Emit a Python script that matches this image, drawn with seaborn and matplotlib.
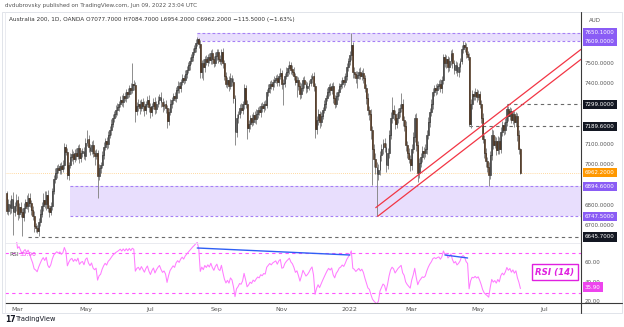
import numpy as np
import pandas as pd
import matplotlib
matplotlib.use("Agg")
import matplotlib.pyplot as plt
import matplotlib.transforms as mtransforms
from matplotlib.patches import Rectangle
import seaborn as sns

sns.set_style("white")
plt.rcParams['font.family'] = ['DejaVu Sans']

# ---------------- data ----------------
first_open = 6860.0
closes = [
    6775, 6810, 6790, 6835, 6770, 6800, 6830, 6760, 6795, 6770,
    6745, 6790, 6820, 6800, 6840, 6815, 6780, 6750, 6700, 6690,
    6675, 6720, 6760, 6800, 6830, 6810, 6850, 6790, 6770, 6800,
    6870, 6930, 6960, 6985, 6975, 6995, 6980, 7000, 7090, 7065,
    6950, 7000, 7040, 7055, 7030, 7060, 7045, 7085, 7035, 7060,
    7070, 7045, 7110, 7130, 7090, 7070, 7100, 7060, 7045, 7060,
    6945, 6985, 7000, 7050, 7090, 7120, 7105, 7150, 7170, 7200,
    7230, 7250, 7270, 7285, 7300, 7320, 7310, 7340, 7330, 7360,
    7350, 7380, 7370, 7400, 7395, 7265, 7290, 7300, 7280, 7310,
    7290, 7270, 7300, 7320, 7285, 7260, 7290, 7310, 7275, 7300,
    7320, 7335, 7310, 7290, 7300, 7280, 7215, 7260, 7300, 7320,
    7340, 7330, 7370, 7390, 7380, 7410, 7430, 7420, 7450, 7470,
    7490, 7510, 7530, 7555, 7575, 7600, 7620, 7595, 7460, 7500,
    7480, 7520, 7505, 7530, 7515, 7550, 7520, 7500, 7535, 7555,
    7520, 7510, 7555, 7500, 7440, 7400, 7420, 7390, 7430, 7410,
    7330, 7160, 7230, 7250, 7280, 7270, 7300, 7380, 7300, 7180,
    7200, 7230, 7210, 7245, 7225, 7250, 7270, 7260, 7290, 7280,
    7300, 7295, 7360, 7380, 7400, 7390, 7410, 7420, 7430, 7410,
    7440, 7455, 7400, 7405, 7440, 7460, 7475, 7490, 7470, 7460,
    7440, 7410, 7420, 7390, 7350, 7380, 7420, 7400, 7380, 7390,
    7405, 7425, 7440, 7390, 7175, 7220, 7250, 7210, 7240, 7270,
    7300, 7330, 7360, 7385, 7370, 7390, 7330, 7300, 7340, 7360,
    7390, 7400, 7420, 7410, 7440, 7480, 7510, 7540, 7590, 7460,
    7450, 7430, 7445, 7460, 7440, 7455, 7430, 7380, 7330, 7270,
    7250, 7170, 7080, 7030, 6990, 6955, 6975, 7050, 7080, 7110,
    7090, 7000, 7060, 7150, 7230, 7270, 7250, 7200, 7230, 7260,
    7280, 7300, 7220, 7190, 7100, 7060, 7030, 7000, 7080, 7140,
    7230, 7100, 6960, 7010, 7040, 7070, 7060, 7080, 7150, 7210,
    7260, 7300, 7360, 7380, 7370, 7390, 7400, 7380, 7420, 7530,
    7500, 7520, 7480, 7510, 7550, 7500, 7470, 7490, 7460, 7480,
    7510, 7570, 7590, 7580, 7545, 7530, 7200, 7300, 7350, 7340,
    7360, 7335, 7350, 7300, 7230, 7130, 7060, 7020, 6990, 6950,
    7050, 7150, 7100, 7120, 7075, 7120, 7080, 7160, 7195, 7170,
    7210, 7275, 7240, 7265, 7220, 7250, 7210, 7240, 7150, 7077.7, 6962.2,
]
upper_wick = [
    10, 25, 20, 15, 30, 20, 25, 15, 20, 25,
    20, 25, 15, 30, 20, 22, 15, 20, 25, 15,
    15, 20, 25, 20, 30, 40, 20, 25, 15, 20,
    15, 20, 25, 15, 20, 15, 20, 25, 20, 15,
    20, 15, 20, 25, 15, 20, 25, 15, 20, 15,
    15, 20, 25, 42, 20, 15, 20, 25, 15, 20,
    15, 20, 15, 20, 25, 15, 20, 15, 20, 25,
    20, 15, 25, 20, 15, 20, 25, 15, 20, 15,
    20, 15, 25, 100, 20, 15, 20, 25, 20, 15,
    20, 25, 15, 20, 25, 20, 15, 20, 25, 15,
    20, 15, 25, 20, 15, 20, 15, 20, 25, 15,
    15, 20, 15, 25, 20, 15, 20, 15, 20, 15,
    15, 20, 15, 20, 15, 20, 12, 5, 20, 15,
    20, 15, 20, 15, 20, 15, 20, 15, 20, 15,
    15, 20, 15, 20, 15, 20, 15, 20, 25, 15,
    20, 15, 20, 15, 20, 25, 15, 20, 15, 20,
    20, 15, 20, 15, 20, 25, 15, 20, 15, 20,
    15, 20, 15, 20, 15, 20, 15, 20, 15, 20,
    15, 20, 15, 20, 15, 20, 15, 20, 15, 20,
    20, 15, 20, 15, 20, 25, 15, 20, 15, 20,
    15, 20, 15, 20, 15, 20, 25, 15, 20, 15,
    20, 15, 20, 15, 20, 15, 20, 15, 20, 15,
    15, 20, 15, 20, 15, 20, 15, 20, 60.1, 15,
    20, 15, 20, 15, 20, 15, 20, 15, 20, 25,
    20, 25, 20, 25, 30, 25, 30, 20, 25, 20,
    25, 20, 25, 20, 30, 65, 25, 20, 25, 20,
    20, 54, 25, 20, 25, 20, 25, 20, 25, 20,
    20, 25, 20, 25, 20, 25, 20, 25, 20, 25,
    20, 25, 20, 15, 20, 15, 20, 25, 20, 15,
    15, 20, 15, 20, 15, 20, 15, 20, 15, 20,
    15, 20, 19, 15, 20, 15, 20, 25, 20, 15,
    20, 15, 20, 15, 20, 25, 20, 25, 20, 25,
    20, 25, 20, 25, 20, 25, 20, 25, 20, 15,
    20, 24, 15, 20, 15, 20, 15, 20, 15, 20, 7,
]
lower_wick = [
    15, 20, 30, 25, 115, 20, 25, 30, 20, 25,
    95, 20, 25, 15, 30, 20, 25, 20, 30, 20,
    10, 25, 20, 15, 25, 20, 30, 20, 25, 15,
    20, 15, 20, 25, 15, 20, 25, 15, 20, 15,
    20, 25, 15, 20, 25, 15, 20, 15, 25, 20,
    20, 15, 20, 15, 25, 20, 15, 20, 45, 15,
    107, 20, 25, 15, 20, 15, 25, 20, 15, 20,
    15, 20, 15, 25, 20, 15, 20, 25, 15, 20,
    20, 15, 20, 15, 25, 55, 20, 25, 30, 15,
    25, 30, 20, 15, 25, 30, 20, 15, 25, 20,
    15, 20, 25, 30, 20, 25, 35, 20, 15, 20,
    20, 15, 20, 15, 25, 20, 15, 20, 15, 20,
    15, 20, 15, 20, 15, 20, 15, 20, 30, 30,
    60, 20, 15, 20, 15, 20, 25, 20, 15, 20,
    20, 15, 20, 25, 20, 15, 20, 25, 15, 20,
    25, 62, 20, 25, 20, 15, 20, 25, 20, 50,
    20, 25, 20, 15, 20, 25, 20, 15, 25, 20,
    20, 25, 15, 20, 25, 15, 20, 25, 15, 20,
    20, 15, 25, 105, 20, 15, 20, 25, 20, 15,
    20, 15, 75, 20, 25, 20, 15, 20, 25, 20,
    20, 15, 20, 25, 42, 20, 25, 30, 20, 15,
    15, 20, 15, 20, 25, 20, 25, 20, 15, 20,
    20, 15, 20, 25, 15, 20, 15, 20, 25, 30,
    20, 25, 50, 20, 15, 20, 25, 20, 30, 25,
    30, 40, 180, 40, 35, 207.5, 30, 25, 30, 25,
    25, 35, 20, 25, 20, 25, 30, 25, 20, 25,
    25, 20, 30, 25, 30, 25, 20, 30, 25, 20,
    25, 30, 44, 25, 20, 25, 30, 20, 25, 20,
    25, 20, 25, 20, 25, 20, 15, 20, 25, 20,
    20, 25, 20, 15, 20, 25, 20, 15, 20, 25,
    20, 15, 20, 25, 20, 15, 10.4, 20, 25, 20,
    20, 25, 15, 20, 25, 20, 25, 30, 25, 55.4,
    20, 25, 20, 15, 25, 20, 25, 20, 15, 20,
    15, 20, 25, 20, 15, 20, 25, 20, 30, 25, 8,
]
start_date = "2021-02-18"
month_ticks = ["2021-03-01", "2021-05-03", "2021-07-01", "2021-09-01", "2021-11-01",
               "2022-01-03", "2022-03-01", "2022-05-02", "2022-07-01"]
month_labels = ["Mar", "May", "Jul", "Sep", "Nov", "2022", "Mar", "May", "Jul"]

axis_prices = [7500, 7400, 7100, 7000, 6800, 6700]
resistance_zone = (7609.0, 7650.1)
support_zone = (6747.5, 6894.6)
level_lines = [7299.0, 7189.6, 6645.7]
last_price = 6962.2
rsi_period = 14
rsi_levels = [70, 30]
rsi_axis_labels = [60, 40, 20]
rsi_last_shown = 35.90

assert len(closes) == len(upper_wick) == len(lower_wick), (len(closes), len(upper_wick), len(lower_wick))

# ---------------- derived ----------------
closes = np.array(closes, float)
n = len(closes)
opens = np.r_[first_open, closes[:-1]]
highs = np.maximum(opens, closes) + np.array(upper_wick, float)
lows = np.minimum(opens, closes) - np.array(lower_wick, float)
dates = pd.bdate_range(start_date, periods=n)
idx = np.arange(n)
df = pd.DataFrame({"date": dates, "i": idx, "open": opens, "high": highs,
                   "low": lows, "close": closes})

delta = df["close"].diff()
gain = delta.clip(lower=0).ewm(alpha=1 / rsi_period, adjust=False).mean()
loss = (-delta.clip(upper=0)).ewm(alpha=1 / rsi_period, adjust=False).mean()
df["rsi"] = 100 - 100 / (1 + gain / loss)

def date_index(d):
    return len(pd.bdate_range(start_date, d)) - 1

tick_pos = [date_index(d) for d in month_ticks]

# ---------------- figure ----------------
W, H = 624, 327
fig = plt.figure(figsize=(W / 100, H / 100), dpi=100)
fig.patch.set_facecolor("white")

def fx(px):
    return px / W

def fy(py):
    return 1 - py / H

X0, X1 = 5, 581
ax = fig.add_axes([fx(X0), fy(242), fx(X1) - fx(X0), fy(12) - fy(242)])
axr = fig.add_axes([fx(X0), fy(303), fx(X1) - fx(X0), fy(242) - fy(303)])
xmin, xmax = -1.3, 380.1
for a in (ax, axr):
    a.set_xlim(xmin, xmax)
    a.set_facecolor("none")
    for s in a.spines.values():
        s.set_visible(False)
    a.set_yticks([])
ax.set_xticks([])
ax.set_ylim(6621, 7753)
axr.set_ylim(20, 81)

# zones
purple_fill = "#e8defd"
purple_line = "#a680f5"
purple_box = "#8a5cf5"
ax.add_patch(Rectangle((126, resistance_zone[0]), xmax - 126,
                       resistance_zone[1] - resistance_zone[0],
                       facecolor=purple_fill, edgecolor="none", zorder=1))
ax.add_patch(Rectangle((41.5, support_zone[0]), xmax - 41.5,
                       support_zone[1] - support_zone[0],
                       facecolor=purple_fill, edgecolor="none", zorder=1))
for y in resistance_zone:
    ax.hlines(y, 126, xmax, colors=purple_line, linestyles=(0, (2.5, 2)), lw=0.8, zorder=2)
for y in support_zone:
    ax.hlines(y, 41.5, xmax, colors=purple_line, linestyles=(0, (2.5, 2)), lw=0.8, zorder=2)

# horizontal levels
starts = [331, 306, 14]
for y, s in zip(level_lines, starts):
    ax.hlines(y, s, xmax, colors="#6a6a6a", linestyles=(0, (3, 3)), lw=0.8, zorder=2)
ax.axhline(last_price, color="#ffb74d", ls=(0, (1, 1.5)), lw=0.6, alpha=0.7, zorder=2)

# candles
up = df["close"] >= df["open"]
ax.vlines(df["i"], df["low"], df["high"], color="#858585", lw=0.65, zorder=3)
for mask, fc in ((up, "#9a9a9a"), (~up, "#c4661c")):
    d = df[mask]
    ax.bar(d["i"], (d["close"] - d["open"]).abs(), bottom=np.minimum(d["open"], d["close"]),
           width=0.62, color=fc, edgecolor="#161616", linewidth=0.4, zorder=4)

# channel
red = "#f23645"
ax.plot([244.2, xmax], [6790, 7569], color=red, lw=0.9, zorder=5)
ax.plot([245.5, xmax], [support_zone[0], 7520], color=red, lw=0.9, zorder=5)

# RSI
magenta = "#ee44ee"
sns.lineplot(data=df, x="i", y="rsi", ax=axr, color="#ff7cff", lw=0.75, zorder=3)
axr.set_xlabel("")
axr.set_ylabel("")
for lvl in rsi_levels:
    axr.axhline(lvl, color="#ff55ff", ls=(0, (3, 3)), lw=0.8, zorder=2)
axr.plot([126, 227], [75, 68], color="#2f5ff5", lw=1.0, zorder=4)
axr.plot([290, 305], [68, 65], color="#2f5ff5", lw=1.0, zorder=4)

axr.set_xticks(tick_pos)
axr.set_xticklabels(month_labels)
axr.tick_params(axis="x", length=0, pad=3, labelsize=4.5, labelcolor="#555555")

# right axis labels
tr = mtransforms.blended_transform_factory(ax.transAxes, ax.transData)
lab_x = (585 - X0) / (X1 - X0)
fs = 4.0
for p in axis_prices:
    ax.text(lab_x, p, f"{p:.4f}", transform=tr, fontsize=fs, color="#555555",
            va="center", ha="left", clip_on=False)
boxes = [(resistance_zone[1], purple_box), (resistance_zone[0], purple_box),
         (level_lines[0], "#131722"), (level_lines[1], "#131722"),
         (last_price, "#ff9800"), (support_zone[1], purple_box),
         (support_zone[0], purple_box), (level_lines[2], "#131722")]
for p, c in boxes:
    ax.text(lab_x, p, f"{p:.4f}", transform=tr, fontsize=fs, color="white",
            va="center", ha="left", clip_on=False,
            bbox=dict(boxstyle="square,pad=0.4", fc=c, ec="none"))
fig.text(fx(589), fy(20), "AUD", fontsize=fs, color="#555555", va="center", ha="left")

trr = mtransforms.blended_transform_factory(axr.transAxes, axr.transData)
for v in rsi_axis_labels:
    axr.text(lab_x, v + (1.5 if v == 20 else 0), f"{v:.2f}", transform=trr, fontsize=fs,
             color="#555555", va="center", ha="left", clip_on=False)
axr.text(lab_x, rsi_last_shown, f"{rsi_last_shown:.2f}", transform=trr, fontsize=fs,
         color="white", va="center", ha="left", clip_on=False,
         bbox=dict(boxstyle="square,pad=0.4", fc=magenta, ec="none"))

# texts
fig.text(fx(5), fy(6), "dvdubrovsky published on TradingView.com, Jun 09, 2022 23:04 UTC",
         fontsize=4.1, color="#555555", va="center", ha="left")
fig.text(fx(9), fy(19),
         "Australia 200, 1D, OANDA O7077.7000 H7084.7000 L6954.2000 C6962.2000 \u2212115.5000 (\u22121.63%)",
         fontsize=4.15, color="#333333", va="center", ha="left")
fig.text(fx(9), fy(254), "RSI", fontsize=4.2, color="#555555", va="center", ha="left")
fig.text(fx(19), fy(254), f"{rsi_last_shown:.2f}", fontsize=4.2, color=magenta,
         va="center", ha="left")
fig.text(fx(555), fy(272), "RSI (14)", fontsize=6.2, color="#e020e0", fontweight="bold",
         style="italic", va="center", ha="center",
         bbox=dict(boxstyle="square,pad=0.45", fc="white", ec="#e020e0", lw=1.0))
fig.text(fx(5), fy(319), "17", fontsize=5.5, color="#131722", fontweight="bold",
         va="center", ha="left")
fig.text(fx(16), fy(319), "TradingView", fontsize=4.8, color="#131722", va="center", ha="left")

# frame lines
def hline(py, x0, x1, c, lw):
    fig.add_artist(plt.Line2D([fx(x0), fx(x1)], [fy(py), fy(py)], color=c, lw=lw))

def vline(px, y0, y1, c, lw):
    fig.add_artist(plt.Line2D([fx(px), fx(px)], [fy(y0), fy(y1)], color=c, lw=lw))

fig.add_artist(Rectangle((fx(2), fy(313)), fx(622) - fx(2), fy(12) - fy(313),
                         transform=fig.transFigure, fill=False, ec="#dcdfe6", lw=0.6))
hline(242.5, 5, 581, "#e6e8ee", 0.6)
hline(303, 5, 622, "#3a3a3a", 0.8)
vline(581, 12, 313, "#3a3a3a", 0.8)
vline(5, 12, 313, "#e6e8ee", 0.6)

fig.savefig("out.png", dpi=100)
